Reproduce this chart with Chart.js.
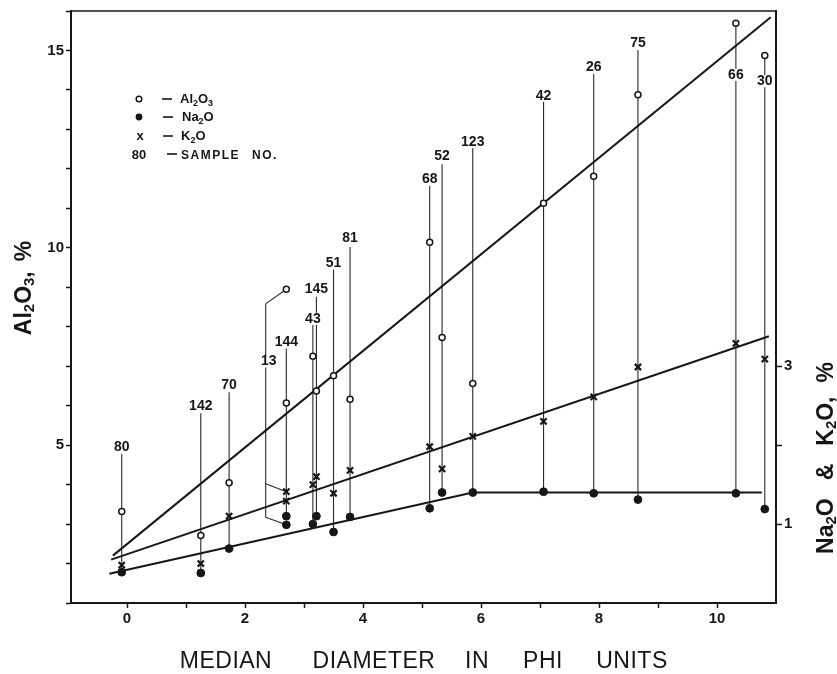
<!DOCTYPE html>
<html><head><meta charset="utf-8">
<script src="https://cdn.jsdelivr.net/npm/chart.js@4.4.0/dist/chart.umd.min.js"></script>
<style>html,body{margin:0;padding:0;background:#fff;}#wrap{width:837px;height:674px;position:relative;}</style>
</head><body><div id="wrap"><canvas id="c"></canvas></div>
<script>
// ---- data ----
const samples = ['80','142','70','13','144','43','145','51','81','68','52','123','42','26','75','66','30'];
const phi     = [-0.09, 1.25, 1.73, 2.70, 2.70, 3.15, 3.21, 3.50, 3.78, 5.13, 5.34, 5.86, 7.06, 7.91, 8.66, 10.32, 10.81];
const al2o3   = [3.32, 2.71, 4.05, 8.95, 6.07, 7.25, 6.37, 6.76, 6.16, 10.14, 7.73, 6.56, 11.13, 11.81, 13.88, 15.69, 14.87];
const na2o    = [0.39, 0.38, 0.69, 0.99, 1.10, 1.00, 1.10, 0.90, 1.09, 1.20, 1.40, 1.40, 1.41, 1.39, 1.31, 1.39, 1.19];
const k2o     = [0.48, 0.50, 1.10, 1.41, 1.29, 1.50, 1.60, 1.39, 1.68, 1.98, 1.70, 2.11, 2.30, 2.61, 2.99, 3.29, 3.09];
// sample-number leader lines (Al2O3 % units)
const stemTop    = [4.78, 5.81, 6.34, 8.58, 7.45, 8.05, 8.76, 9.46, 10.02, 11.57, 12.12, 12.54, 13.70, 14.41, 15.01, 15.69, 14.87];
const labelLevel = [4.95, 5.99, 6.51, 7.12, 7.62, 8.20, 8.96, 9.60, 10.24, 11.74, 12.31, 12.68, 13.85, 14.57, 15.18, 14.38, 14.22];
const stemPhi    = [-0.09, 1.25, 1.73, 2.35, 2.70, 3.15, 3.21, 3.50, 3.78, 5.13, 5.34, 5.86, 7.06, 7.91, 8.66, 10.32, 10.81];
// bracket knees for the offset leader of sample 13 (Al2O3 % units)
const kneeK2O  = [null,null,null,4.02,null,null,null,null,null,null,null,null,null,null,null,null,null];
const kneeNa2O = [null,null,null,3.17,null,null,null,null,null,null,null,null,null,null,null,null,null];
// fitted trend lines
const alTrendX  = [-0.24, 10.91];
const alTrendY  = [2.20, 15.84];
const k2oTrendX = [-0.27, 10.88];
const k2oTrendY = [0.55, 3.38];
const naTrendX  = [-0.30, 5.86, 10.76];
const naTrendY  = [0.37, 1.40, 1.40];
// axes
const xMin = -0.95, xMax = 11;
const leftMin = 1, leftMax = 16;
const rightMin = 0, rightMax = 7.5;
const xTicks = [0,1,2,3,4,5,6,7,8,9,10];
const xTickLabels = ['0','','2','','4','','6','','8','','10'];
const leftTicks = [1,2,3,4,5,6,7,8,9,10,11,12,13,14,15,16];
const leftTickLabels = ['','','','','5','','','','','10','','','','','15',''];
const rightTicks = [1,2,3];
const rightTickLabels = ['1','','3'];

const INK = '#161616';
const FONT = '"Liberation Sans", Arial, sans-serif';
const toLeft = r => leftMin + (r - rightMin) * (leftMax - leftMin) / (rightMax - rightMin);
const pts = (xs, ys) => xs.map((v, i) => ({x: v, y: ys[i]}));

const datasets = [];
datasets.push({label:'Al2O3', data: pts(phi, al2o3), yAxisID:'y', pointStyle:'circle', pointRadius:3,
  pointBorderWidth:1.5, pointBackgroundColor:'#fff', pointBorderColor:INK, showLine:false, order:0});
datasets.push({label:'Na2O', data: pts(phi, na2o), yAxisID:'y1', pointStyle:'circle', pointRadius:3.9,
  pointBorderWidth:1, pointBackgroundColor:INK, pointBorderColor:INK, showLine:false, order:0});
datasets.push({label:'K2O', data: pts(phi, k2o), yAxisID:'y1', pointStyle:'crossRot', pointRadius:4.4,
  pointBorderWidth:2.2, pointBackgroundColor:INK, pointBorderColor:INK, showLine:false, order:0});
const trend = (xs, ys, axis) => ({data: pts(xs, ys), yAxisID: axis, showLine:true, pointRadius:0,
  borderColor:INK, borderWidth:2, tension:0, order:1});
datasets.push(trend(alTrendX, alTrendY, 'y'));
datasets.push(trend(k2oTrendX, k2oTrendY, 'y1'));
datasets.push(trend(naTrendX, naTrendY, 'y1'));
const thin = d => ({data:d, yAxisID:'y', showLine:true, pointRadius:0, borderColor:'#2a2a2a', borderWidth:1.1, order:2});
samples.forEach((s, i) => {
  const bottom = kneeNa2O[i] != null ? kneeNa2O[i] : toLeft(na2o[i]);
  datasets.push(thin([{x: stemPhi[i], y: stemTop[i]}, {x: stemPhi[i], y: bottom}]));
  if (stemPhi[i] !== phi[i]) {
    datasets.push(thin([{x: stemPhi[i], y: stemTop[i]}, {x: phi[i], y: al2o3[i]}]));
    if (kneeK2O[i] != null) datasets.push(thin([{x: stemPhi[i], y: kneeK2O[i]}, {x: phi[i], y: toLeft(k2o[i])}]));
    if (kneeNa2O[i] != null) datasets.push(thin([{x: stemPhi[i], y: kneeNa2O[i]}, {x: phi[i], y: toLeft(na2o[i])}]));
  }
});

function drawRich(ctx, segs, x, y, size, weight) {
  let cx = x;
  for (const s of segs) {
    if (s.gap) { cx += s.gap; continue; }
    const fs = s.sub ? Math.round(size * 0.66) : size;
    ctx.font = `${weight} ${fs}px ${FONT}`;
    ctx.fillText(s.t, cx, s.sub ? y + size * 0.2 : y);
    cx += ctx.measureText(s.t).width;
  }
  return cx - x;
}
function richWidth(ctx, segs, size, weight) {
  let w = 0;
  for (const s of segs) {
    if (s.gap) { w += s.gap; continue; }
    const fs = s.sub ? Math.round(size * 0.66) : size;
    ctx.font = `${weight} ${fs}px ${FONT}`;
    w += ctx.measureText(s.t).width;
  }
  return w;
}

const decor = {
  id: 'decor',
  afterDatasetsDraw(chart) {
    const {ctx, chartArea: ca, scales: {x, y}} = chart;
    ctx.save();
    // top frame line
    ctx.strokeStyle = INK; ctx.lineWidth = 1.5;
    ctx.beginPath(); ctx.moveTo(ca.left, ca.top); ctx.lineTo(ca.right, ca.top); ctx.stroke();
    // sample numbers
    ctx.font = `bold 14px ${FONT}`; ctx.textAlign = 'center'; ctx.textBaseline = 'middle';
    samples.forEach((s, i) => {
      const px = x.getPixelForValue(stemPhi[i]) + (stemPhi[i] !== phi[i] ? 3 : 0);
      const py = y.getPixelForValue(labelLevel[i]);
      const w = ctx.measureText(s).width;
      ctx.fillStyle = '#fff'; ctx.fillRect(px - w/2 - 1, py - 6, w + 2, 12);
      ctx.fillStyle = INK; ctx.fillText(s, px, py);
    });
    // legend
    ctx.textAlign = 'left'; ctx.textBaseline = 'alphabetic';
    ctx.strokeStyle = INK; ctx.fillStyle = INK;
    const rows = [99, 117, 136, 154];
    ctx.lineWidth = 1.5;
    ctx.beginPath(); ctx.arc(139, rows[0], 2.8, 0, Math.PI*2); ctx.fillStyle = '#fff'; ctx.fill(); ctx.stroke();
    ctx.fillStyle = INK;
    ctx.beginPath(); ctx.arc(139, rows[1], 3.4, 0, Math.PI*2); ctx.fill();
    ctx.font = `bold 13px ${FONT}`; ctx.textAlign = 'center';
    ctx.fillText('x', 140, rows[2] + 4);
    ctx.fillText('80', 139, rows[3] + 5);
    ctx.lineWidth = 1.6;
    [[162,172],[163,173],[163,173],[167,177]].forEach((d, k) => {
      ctx.beginPath(); ctx.moveTo(d[0], rows[k]); ctx.lineTo(d[1], rows[k]); ctx.stroke();
    });
    ctx.textAlign = 'left';
    drawRich(ctx, [{t:'Al'},{t:'2',sub:1},{t:'O'},{t:'3',sub:1}], 180, rows[0] + 4, 13, 'bold');
    drawRich(ctx, [{t:'Na'},{t:'2',sub:1},{t:'O'}], 182, rows[1] + 4, 13, 'bold');
    drawRich(ctx, [{t:'K'},{t:'2',sub:1},{t:'O'}], 181, rows[2] + 4, 13, 'bold');
    ctx.font = `bold 12px ${FONT}`;
    ctx.letterSpacing = '1.5px';
    ctx.fillText('SAMPLE', 181, rows[3] + 5);
    ctx.fillText('NO.', 252, rows[3] + 5);
    ctx.letterSpacing = '0px';
    // x-axis title
    ctx.font = `23px ${FONT}`; ctx.textAlign = 'center'; ctx.textBaseline = 'middle';
    ctx.letterSpacing = '0.5px';
    [['MEDIAN',226],['DIAMETER',374],['IN',477],['PHI',543],['UNITS',632]].forEach(w => ctx.fillText(w[0], w[1], 662));
    ctx.letterSpacing = '0px';
    // left title
    ctx.textAlign = 'left'; ctx.textBaseline = 'middle';
    const lsegs = [{t:'Al'},{t:'2',sub:1},{t:'O'},{t:'3',sub:1},{t:','},{gap:10},{t:'%'}];
    ctx.save(); ctx.translate(25, 288); ctx.rotate(-Math.PI/2);
    const lw = richWidth(ctx, lsegs, 23, 'bold');
    drawRich(ctx, lsegs, -lw/2, 0, 23, 'bold'); ctx.restore();
    // right title
    const rsegs = [{t:'Na'},{t:'2',sub:1},{t:'O'},{gap:18},{t:'&'},{gap:18},{t:'K'},{t:'2',sub:1},{t:'O'},{t:','},{gap:14},{t:'%'}];
    ctx.save(); ctx.translate(827, 458); ctx.rotate(-Math.PI/2);
    const rw = richWidth(ctx, rsegs, 23, 'bold');
    drawRich(ctx, rsegs, -rw/2, 0, 23, 'bold'); ctx.restore();
    ctx.restore();
  }
};

const tickFont = {family: FONT, size: 15, weight: 'bold'};
new Chart(document.getElementById('c'), {
  type: 'scatter',
  data: {datasets},
  options: {
    responsive: true, maintainAspectRatio: false, animation: false, events: [],
    layout: {padding: {top: 11, left: 0, right: 0, bottom: 0}},
    plugins: {legend: {display: false}, tooltip: {enabled: false}},
    scales: {
      x: {type:'linear', min:xMin, max:xMax,
        afterBuildTicks: s => { s.ticks = xTicks.map(v => ({value: v})); },
        afterFit: s => { s.height = 71; },
        grid: {drawOnChartArea:false, tickLength:5, tickColor:INK, tickWidth:1.5},
        border: {display:true, color:INK, width:2},
        ticks: {autoSkip:false, maxRotation:0, color:INK, font:tickFont, padding:2,
          callback: (v, i) => xTickLabels[xTicks.indexOf(v)] ?? ''}},
      y: {type:'linear', position:'left', min:leftMin, max:leftMax,
        afterBuildTicks: s => { s.ticks = leftTicks.map(v => ({value: v})); },
        afterFit: s => { s.width = 71; },
        grid: {drawOnChartArea:false, tickLength:5, tickColor:INK, tickWidth:1.5},
        border: {display:true, color:INK, width:2},
        ticks: {autoSkip:false, color:INK, font:tickFont, padding:2,
          callback: v => leftTickLabels[leftTicks.indexOf(v)] ?? ''}},
      y1: {type:'linear', position:'right', min:rightMin, max:rightMax,
        afterBuildTicks: s => { s.ticks = rightTicks.map(v => ({value: v})); },
        afterFit: s => { s.width = 61; },
        grid: {drawOnChartArea:false, tickLength:6, tickColor:INK, tickWidth:1.5},
        border: {display:true, color:INK, width:2},
        ticks: {autoSkip:false, color:INK, font:tickFont, padding:2,
          callback: v => rightTickLabels[rightTicks.indexOf(v)] ?? ''}}
    }
  },
  plugins: [decor]
});
</script></body></html>
